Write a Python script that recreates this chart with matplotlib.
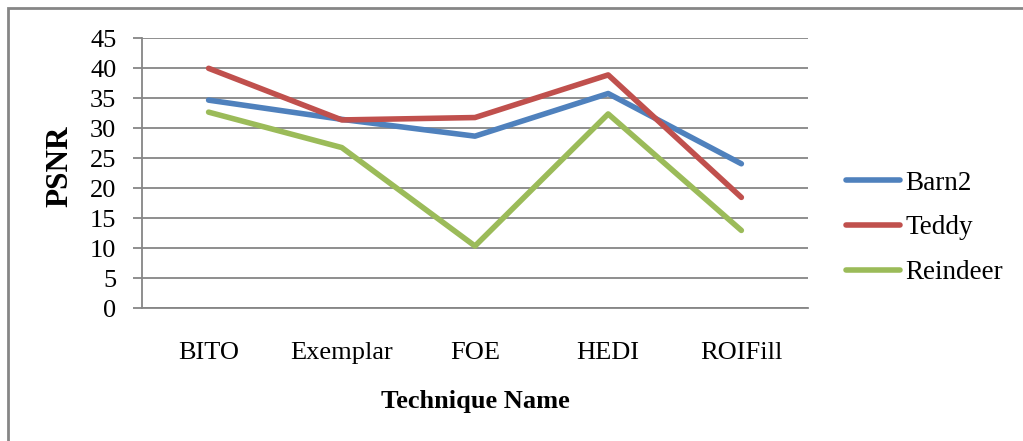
import matplotlib
matplotlib.use("Agg")
import numpy as np
from matplotlib import pyplot as plt
from matplotlib.patches import Rectangle

plt.rcParams['font.family'] = ['Liberation Serif', 'DejaVu Serif']

# PSNR per inpainting technique
techniques = ["BITO", "Exemplar", "FOE", "HEDI", "ROIFill"]
barn2 = [34.7, 31.5, 28.7, 35.8, 24.1]
teddy = [40.0, 31.4, 31.8, 38.9, 18.5]
reindeer = [32.7, 26.8, 10.4, 32.4, 13.0]

grey = "#868686"

fig = plt.figure(figsize=(10.23, 4.41), dpi=100)
ax = fig.add_axes([0.1388, 0.3005, 0.651, 0.6127])

x = np.arange(len(techniques))
ax.plot(x, barn2, color="#4F81BD", lw=4, label="Barn2", solid_capstyle="round")
ax.plot(x, teddy, color="#C0504D", lw=4, label="Teddy", solid_capstyle="round")
ax.plot(x, reindeer, color="#9BBB59", lw=4, label="Reindeer", solid_capstyle="round")

ax.set_xlim(-0.5, len(techniques) - 0.5)
ax.set_ylim(0, 45)
ax.set_yticks(np.arange(0, 50, 5))
ax.set_xticks(x)
ax.set_xticklabels(techniques)
ax.yaxis.grid(True, color=grey, lw=1.3)
ax.set_axisbelow(True)

for side in ["top", "right"]:
    ax.spines[side].set_visible(False)
for side in ["left", "bottom"]:
    ax.spines[side].set_color(grey)
    ax.spines[side].set_linewidth(1.3)

ax.tick_params(axis="y", length=6.5, width=1.3, color=grey, labelsize=19, pad=12)
ax.tick_params(axis="x", length=0, labelsize=19, pad=24)

ax.set_xlabel("Technique Name", fontsize=19, fontweight="bold", labelpad=19)
ax.set_ylabel("PSNR", fontsize=22.5, fontweight="bold", labelpad=11)
ax.yaxis.label.set_y(0.525)

fig.legend(loc="center left", bbox_to_anchor=(0.827, 0.483), frameon=False,
           fontsize=19.5, handlelength=2.0, handletextpad=0.19, labelspacing=0.73,
           borderpad=0, borderaxespad=0)

# outer frame
fig.patches.append(Rectangle((8 / 1023, -0.1), 1.2, 1.1 - 8 / 441,
                             transform=fig.transFigure, fill=False,
                             edgecolor=grey, lw=2))

plt.savefig("out.png", dpi=100)
